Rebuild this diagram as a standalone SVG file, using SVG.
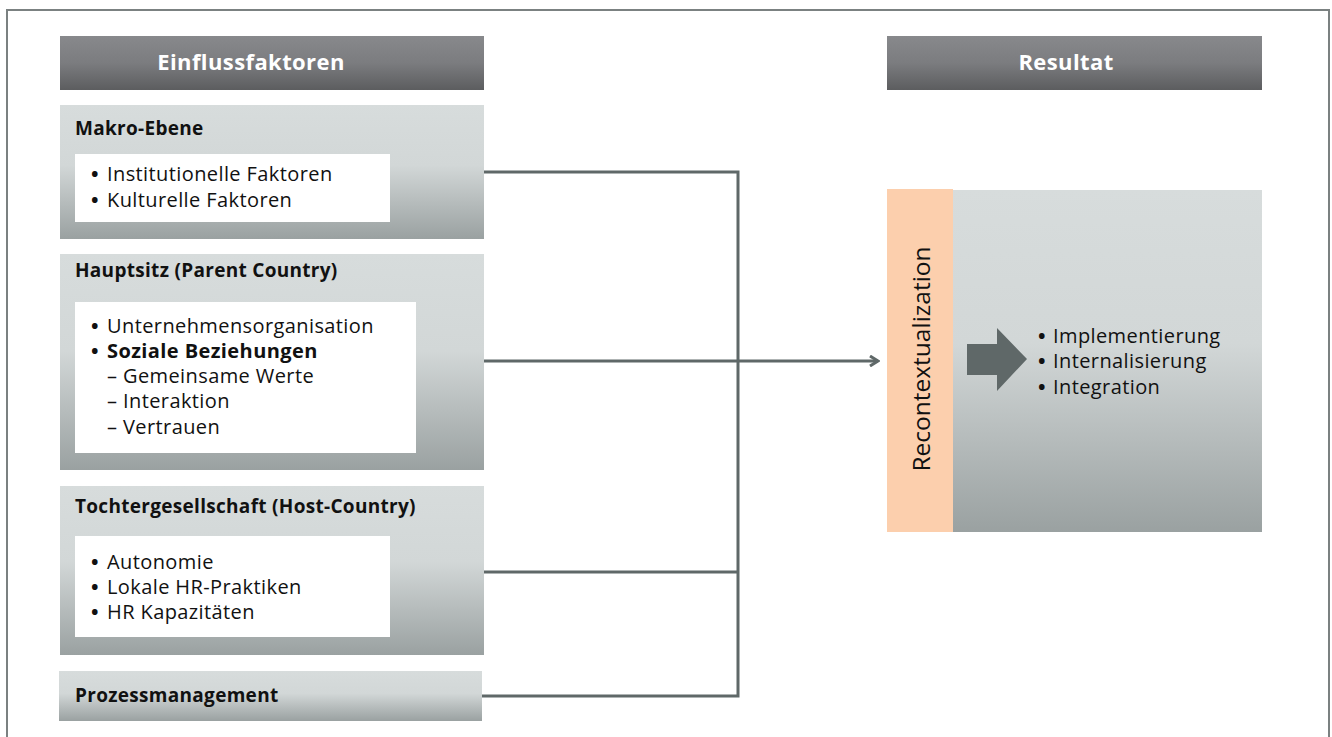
<svg xmlns="http://www.w3.org/2000/svg" width="1332" height="737" viewBox="0 0 1332 737">
<defs>
<linearGradient id="hdr" x1="0" y1="0" x2="0" y2="1"><stop offset="0" stop-color="#88898c"/><stop offset="0.5" stop-color="#7b7c7f"/><stop offset="1" stop-color="#5c5d5f"/></linearGradient>
<linearGradient id="box" x1="0" y1="0" x2="0" y2="1"><stop offset="0" stop-color="#d7dcdc"/><stop offset="0.45" stop-color="#d2d7d7"/><stop offset="1" stop-color="#9aa1a1"/></linearGradient>
<marker id="arr" viewBox="0 0 12 12" refX="10" refY="6" markerWidth="12" markerHeight="12" markerUnits="userSpaceOnUse" orient="auto"><path d="M2,1 L10,6 L2,11" fill="none" stroke="#5f6868" stroke-width="3"/></marker>
</defs>
<style>
text{font-family:"Open Sans","Noto Sans","Liberation Sans",sans-serif;fill:#111;}
.h{font-size:22px;font-weight:bold;fill:#fff;text-anchor:middle;letter-spacing:0.4px;}
.t{font-size:19px;font-weight:bold;letter-spacing:0.3px;}
.b{font-size:20px;letter-spacing:0.4px;}
.d{font-weight:bold;}
.r{font-size:24.5px;text-anchor:middle;}
.con{fill:none;stroke:#5f6868;stroke-width:3;}
</style>
<rect x="7" y="10" width="1322" height="740" fill="#fff" stroke="#7b8181" stroke-width="2"/>
<g id="hdr-einfluss"><rect x="60" y="36" width="424" height="54" fill="url(#hdr)"/><text class="h" x="251" y="70">Einflussfaktoren</text></g>
<g id="hdr-resultat"><rect x="887" y="36" width="375" height="54" fill="url(#hdr)"/><text class="h" x="1066" y="70">Resultat</text></g>
<g id="makro"><rect x="60" y="105" width="424" height="134" fill="url(#box)"/><text class="t" x="75" y="135">Makro-Ebene</text><rect x="75" y="154" width="315" height="68" fill="#fff"/>
<text class="b" y="181"><tspan x="91" class="d">•</tspan><tspan x="107">Institutionelle Faktoren</tspan></text>
<text class="b" y="207"><tspan x="91" class="d">•</tspan><tspan x="107">Kulturelle Faktoren</tspan></text></g>
<g id="hauptsitz"><rect x="60" y="254" width="424" height="216" fill="url(#box)"/><text class="t" x="75" y="277">Hauptsitz (Parent Country)</text><rect x="75" y="302" width="341" height="151" fill="#fff"/>
<text class="b" y="333"><tspan x="91" class="d">•</tspan><tspan x="107">Unternehmensorganisation</tspan></text>
<text class="b" y="358" font-weight="bold"><tspan x="91">•</tspan><tspan x="107">Soziale Beziehungen</tspan></text>
<text class="b" x="107" y="383">– Gemeinsame Werte</text><text class="b" x="107" y="408">– Interaktion</text><text class="b" x="107" y="434">– Vertrauen</text></g>
<g id="tochter"><rect x="60" y="486" width="424" height="169" fill="url(#box)"/><text class="t" x="75" y="513">Tochtergesellschaft (Host-Country)</text><rect x="75" y="536" width="315" height="101" fill="#fff"/>
<text class="b" y="569"><tspan x="91" class="d">•</tspan><tspan x="107">Autonomie</tspan></text>
<text class="b" y="594"><tspan x="91" class="d">•</tspan><tspan x="107">Lokale HR-Praktiken</tspan></text>
<text class="b" y="619"><tspan x="91" class="d">•</tspan><tspan x="107">HR Kapazitäten</tspan></text></g>
<g id="prozess"><rect x="59" y="671" width="423" height="50" fill="url(#box)"/><text class="t" x="75" y="702">Prozessmanagement</text></g>
<g id="connectors">
<polyline class="con" points="484,172 738,172 738,696 482,696"/>
<line class="con" x1="484" y1="572" x2="738" y2="572"/>
<line class="con" x1="484" y1="361" x2="878" y2="361" marker-end="url(#arr)"/>
</g>
<g id="resultat"><rect x="953" y="190" width="309" height="342" fill="url(#box)"/><rect x="887" y="189" width="66" height="343" fill="#fccfad"/>
<text class="r" transform="translate(930,359) rotate(-90)">Recontextualization</text>
<path d="M967,344 H997 V328 L1027,359 L997,391 V375 H967 Z" fill="#5f6868"/>
<text class="b" y="343"><tspan x="1038" class="d">•</tspan><tspan x="1053">Implementierung</tspan></text>
<text class="b" y="368"><tspan x="1038" class="d">•</tspan><tspan x="1053">Internalisierung</tspan></text>
<text class="b" y="394"><tspan x="1038" class="d">•</tspan><tspan x="1053">Integration</tspan></text></g>
</svg>
